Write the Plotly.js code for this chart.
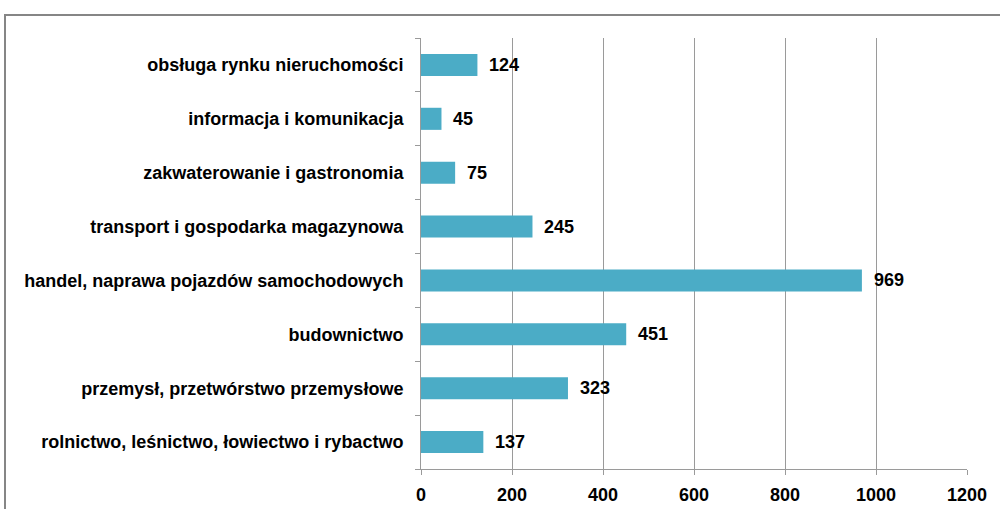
<!DOCTYPE html>
<html><head><meta charset="utf-8">
<script src="https://cdn.plot.ly/plotly-3.0.1.min.js"></script>
<style>body{margin:0;padding:0;background:#fff}#c{width:1000px;height:509px}</style>
</head><body><div id="c"></div>
<script>
const categories = [
  "rolnictwo, leśnictwo, łowiectwo i rybactwo",
  "przemysł, przetwórstwo przemysłowe",
  "budownictwo",
  "handel, naprawa pojazdów samochodowych",
  "transport i gospodarka magazynowa",
  "zakwaterowanie i gastronomia",
  "informacja i komunikacja",
  "obsługa rynku nieruchomości"
];
const values = [137, 323, 451, 969, 245, 75, 45, 124];
const xTicks = [0, 200, 400, 600, 800, 1000, 1200];

const L = 421, R = 967, T = 38, B = 469;
const pw = R - L, ph = B - T;
const px = v => (v - L) / pw;
const py = v => (B - v) / ph;
const FONT = 'Liberation Sans, Arial, sans-serif';

const trace = {
  type: 'bar', orientation: 'h',
  x: values, y: categories,
  marker: {color: '#4BACC6'},
  hoverinfo: 'none'
};
const labels = values.map((v, i) => ({
  x: v, y: categories[i], xref: 'x', yref: 'y',
  text: String(v), showarrow: false, xanchor: 'left', yanchor: 'middle',
  xshift: 10, font: {family: FONT, size: 18, color: '#000', weight: 'bold'}
}));
const layout = {
  width: 1000, height: 509,
  margin: {l: L, r: 1000 - R, t: T, b: 509 - B},
  paper_bgcolor: '#fff', plot_bgcolor: '#fff',
  bargap: 0.59, showlegend: false,
  font: {family: FONT, size: 17, color: '#000', weight: 'bold'},
  xaxis: {range: [0, 1200], tickvals: xTicks, ticktext: xTicks.map(String),
    showgrid: true, gridcolor: '#9a9a9a', gridwidth: 1,
    showline: true, linecolor: '#9a9a9a', linewidth: 1,
    ticks: 'outside', ticklen: 5, tickcolor: '#9a9a9a', ticklabelstandoff: 4,
    tickfont: {size: 18, weight: 'bold'}, zeroline: false, fixedrange: true},
  yaxis: {showline: true, linecolor: '#9a9a9a', linewidth: 1,
    ticks: 'outside', ticklen: 5, tickcolor: '#9a9a9a', tickson: 'boundaries',
    showgrid: false, ticklabelstandoff: 13, tickfont: {size: 18, weight: 'bold'}, fixedrange: true},
  annotations: labels,
  shapes: [{type: 'rect', xref: 'paper', yref: 'paper',
    x0: px(5), x1: px(1010), y0: py(520), y1: py(15),
    line: {color: '#868686', width: 2}, fillcolor: 'rgba(0,0,0,0)', layer: 'below'}]
};
Plotly.newPlot('c', [trace], layout, {staticPlot: true});
</script></body></html>
